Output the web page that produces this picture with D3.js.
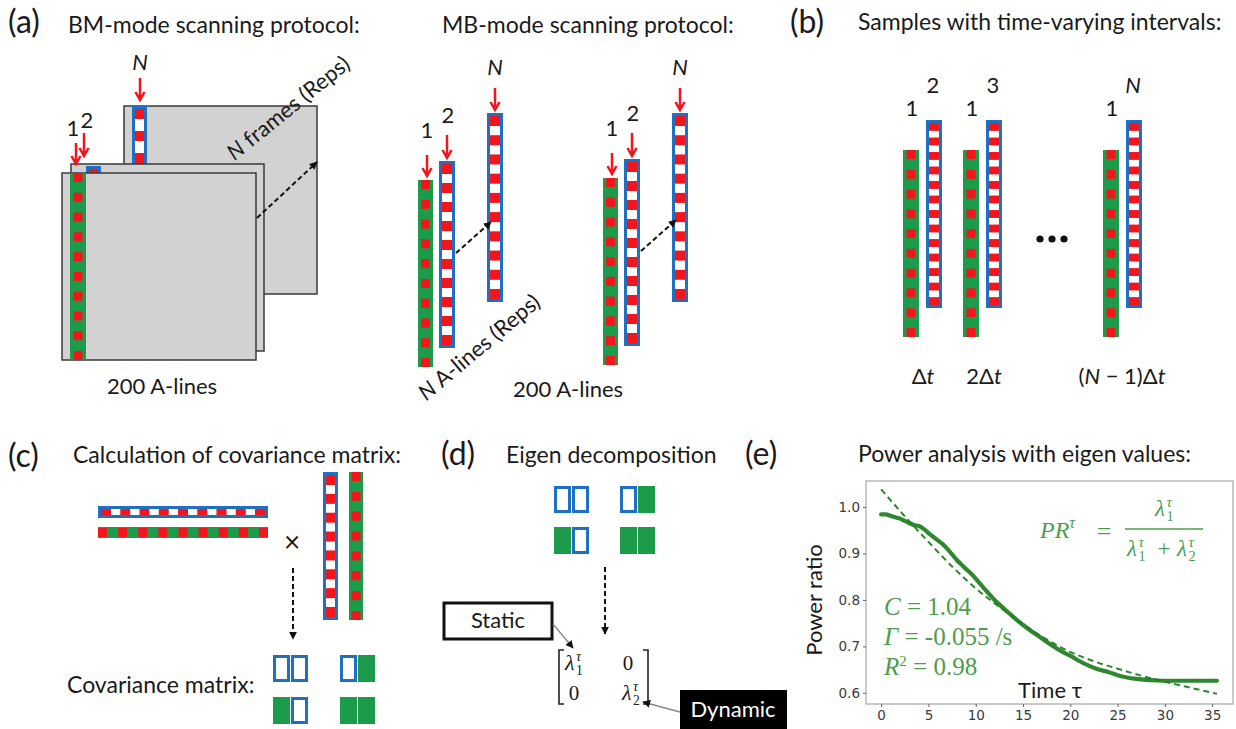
<!DOCTYPE html>
<html>
<head>
<meta charset="utf-8">
<script src="https://cdn.jsdelivr.net/npm/d3@7"></script>
<style>
  body { margin: 0; background: #fff; }
  svg { display: block; }
  text { font-family: Lato, "Open Sans", sans-serif; fill: #1a1a1a; }
  .math { font-family: "Liberation Serif", "DejaVu Serif", serif; }
</style>
</head>
<body>
<svg width="1236" height="729"></svg>
<script>
// ---- panel (e) data: power ratio vs time tau ----
const tauMeasured = [0, 0.5, 1, 1.5, 2, 2.5, 3, 3.5, 4, 4.5, 5, 5.5, 6, 6.5, 7, 7.5, 8, 8.5, 9, 9.5,
  10, 10.5, 11, 11.5, 12, 13, 14, 15, 16, 17, 18, 19, 20, 21, 22, 23, 24, 25, 26, 27, 28, 29, 30,
  31, 32, 33, 34, 35.5];
const prMeasured = [0.984, 0.984, 0.981, 0.978, 0.975, 0.970, 0.965, 0.961, 0.959, 0.953, 0.944,
  0.936, 0.928, 0.920, 0.910, 0.898, 0.886, 0.876, 0.866, 0.857, 0.846, 0.834, 0.822, 0.811, 0.800,
  0.781, 0.763, 0.746, 0.731, 0.717, 0.703, 0.690, 0.680, 0.668, 0.658, 0.650, 0.645, 0.638, 0.633,
  0.630, 0.628, 0.627, 0.626, 0.626, 0.626, 0.626, 0.626, 0.626];
const tauFit = [0, 2.5, 5, 7.5, 10, 12.5, 15, 17.5, 20, 22.5, 25, 27.5, 30, 32.5, 35.5];
const prFit = [1.038, 0.980, 0.925, 0.872, 0.825, 0.785, 0.748, 0.715, 0.688, 0.668, 0.652,
  0.637, 0.624, 0.612, 0.598];
const xTicks = [0, 5, 10, 15, 20, 25, 30, 35];
const yTicks = [0.6, 0.7, 0.8, 0.9, 1.0];
const fitLines = [
  { sym: "C", rest: " = 1.04" },
  { sym: "Γ", rest: " = -0.055 /s" },
  { sym: "R", sup: "2", rest: " = 0.98" }
];

// ---- diagram labels ----
const bPairs = [["1", "2"], ["1", "3"], ["1", "N"]];
const bDelays = ["Δt", "2Δt", "(N − 1)Δt"];
// covariance block pattern: b = hollow blue, g = filled green
const covPattern = [[["b", "b"], ["g", "b"]], [["b", "g"], ["g", "g"]]];

const GREEN = "#1c9c4a", RED = "#f2151b", BLUE = "#1f6fc2", GRAY = "#d3d2d3";
const TEXTGREEN = "#4c9d4c", LINEGREEN = "#1f7d1f";

const svg = d3.select("svg");
const defs = svg.append("defs");
defs.append("marker").attr("id", "headBlack")
  .attr("viewBox", "0 0 10 10").attr("refX", 9).attr("refY", 5)
  .attr("markerWidth", 8).attr("markerHeight", 8).attr("markerUnits", "userSpaceOnUse")
  .attr("orient", "auto")
  .append("path").attr("d", "M0,0L10,5L0,10z").attr("fill", "#111");

function label(g, x, y, txt, size, opts = {}) {
  return g.append("text").attr("x", x).attr("y", y)
    .attr("font-size", size)
    .attr("text-anchor", opts.anchor || "start")
    .attr("font-style", opts.italic ? "italic" : null)
    .attr("class", opts.cls || null)
    .style("fill", opts.color || null)
    .text(txt);
}

// vertical strip in local coords
function vstrip(g, x, y, w, h, kind, pitch = 19.5) {
  const s = g.append("g");
  if (kind === "green") {
    s.append("rect").attr("x", x).attr("y", y).attr("width", w).attr("height", h).attr("fill", GREEN);
    const sq = 9, n = Math.max(1, Math.round((h - sq) / pitch) + 1), gap = n > 1 ? (h - sq) / (n - 1) : 0;
    s.selectAll("rect.sq").data(d3.range(n)).join("rect").attr("class", "sq")
      .attr("x", x + (w - sq) / 2).attr("y", i => y + i * gap)
      .attr("width", sq).attr("height", sq).attr("fill", RED);
  } else {
    s.append("rect").attr("x", x + 1.5).attr("y", y + 1.5).attr("width", w - 3).attr("height", h - 3)
      .attr("fill", "#fff").attr("stroke", BLUE).attr("stroke-width", 3);
    const sq = Math.min(10, pitch * 0.55), inner = h - 6;
    const n = Math.max(1, Math.round((inner - sq) / pitch) + 1), gap = n > 1 ? (inner - sq) / (n - 1) : 0;
    s.selectAll("rect.sq").data(d3.range(n)).join("rect").attr("class", "sq")
      .attr("x", x + 3).attr("y", i => y + 3 + i * gap)
      .attr("width", w - 6).attr("height", sq).attr("fill", RED);
  }
  return s;
}

function hstrip(g, x, y, w, h, kind) {
  const s = g.append("g").attr("transform", `translate(${x},${y + h}) rotate(-90)`);
  vstrip(s, 0, 0, h, w, kind, 20);
}

function redArrow(g, x, y1, y2) {
  g.append("path")
    .attr("d", `M${x},${y1}V${y2}M${x - 4.5},${y2 - 8}L${x},${y2}L${x + 4.5},${y2 - 8}`)
    .attr("fill", "none").attr("stroke", RED).attr("stroke-width", 2.5);
}

function dashArrow(g, x1, y1, x2, y2) {
  g.append("line").attr("x1", x1).attr("y1", y1).attr("x2", x2).attr("y2", y2)
    .attr("stroke", "#111").attr("stroke-width", 2).attr("stroke-dasharray", "5,3")
    .attr("marker-end", "url(#headBlack)");
}

function grayArrow(g, x1, y1, x2, y2) {
  g.append("line").attr("x1", x1).attr("y1", y1).attr("x2", x2).attr("y2", y2)
    .attr("stroke", "#888").attr("stroke-width", 1.3)
    .attr("marker-end", "url(#headBlack)");
}

function lam(g, x, y, idx, size, color) {
  label(g, x, y, "λ", size, { italic: true, cls: "math", color });
  label(g, x + size * 0.5, y + size * 0.22, idx, size * 0.62, { cls: "math", color });
  label(g, x + size * 0.5, y - size * 0.4, "τ", size * 0.66, { italic: true, cls: "math", color });
}

function covBlocks(g, x0, y0, cw, ch, dx, dy) {
  covPattern.forEach((grp, gi) => {
    grp.forEach((row, ri) => {
      row.forEach((c, ci) => {
        const x = x0 + gi * dx + ci * (cw + 1), y = y0 + ri * dy;
        if (c === "g") {
          g.append("rect").attr("x", x).attr("y", y).attr("width", cw).attr("height", ch).attr("fill", GREEN);
        } else {
          g.append("rect").attr("x", x + 1.5).attr("y", y + 1.5).attr("width", cw - 3).attr("height", ch - 3)
            .attr("fill", "#fff").attr("stroke", BLUE).attr("stroke-width", 3);
        }
      });
    });
  });
}

const TITLE = 23, PANEL = 32, LBL = 22;

// ================= panel (a) BM-mode =================
const a = svg.append("g");
label(a, 8, 33, "(a)", PANEL);
label(a, 68, 33, "BM-mode scanning protocol:", TITLE);

const frameAttr = sel => sel.attr("fill", GRAY).attr("stroke", "#3a3a3a").attr("stroke-width", 1.5);
a.append("rect").attr("x", 124).attr("y", 106).attr("width", 193).attr("height", 188).call(frameAttr);
vstrip(a, 132, 106, 15, 60, "blue", 20);
a.append("rect").attr("x", 71).attr("y", 164).attr("width", 193).attr("height", 187).call(frameAttr);
vstrip(a, 86, 166, 15, 20, "blue");
a.append("rect").attr("x", 62).attr("y", 173).attr("width", 194).attr("height", 187).call(frameAttr);
vstrip(a, 70, 173, 16, 187, "green");

label(a, 140, 70, "N", LBL, { anchor: "middle", italic: true });
redArrow(a, 140, 78, 100);
label(a, 73, 136, "1", LBL, { anchor: "middle" });
label(a, 87, 128, "2", LBL, { anchor: "middle" });
redArrow(a, 76, 143, 164);
redArrow(a, 84, 133, 156);
dashArrow(a, 257, 218, 317, 162);
a.append("text").attr("transform", "translate(293,114) rotate(-39)")
  .attr("text-anchor", "middle").attr("font-size", LBL)
  .call(t => { t.append("tspan").attr("font-style", "italic").text("N"); t.append("tspan").text(" frames (Reps)"); });
label(a, 107, 394, "200 A-lines", LBL);

// ================= panel (a) MB-mode =================
label(a, 442, 33, "MB-mode scanning protocol:", TITLE);
[0, 185].forEach((off, gi) => {
  const dy = gi ? -2 : 0;
  vstrip(a, 418 + off, 180 + dy, 15, 187, "green");
  vstrip(a, 439 + off, 161 + dy, 16, 187, "blue");
  vstrip(a, 487 + off, 113, 16, 189, "blue");
  label(a, 427 + off, 138 + dy, "1", LBL, { anchor: "middle" });
  label(a, 448 + off, 123 + dy, "2", LBL, { anchor: "middle" });
  label(a, 495 + off, 75, "N", LBL, { anchor: "middle", italic: true });
  redArrow(a, 427 + off, 155 + dy, 176 + dy);
  redArrow(a, 447 + off, 135 + dy, 158 + dy);
  redArrow(a, 495 + off, 88, 110);
  dashArrow(a, 456 + off, 253 + dy, 491 + off, 222 + dy);
});
a.append("text").attr("transform", "translate(484,353) rotate(-40)")
  .attr("text-anchor", "middle").attr("font-size", LBL)
  .call(t => { t.append("tspan").attr("font-style", "italic").text("N"); t.append("tspan").text(" A-lines (Reps)"); });
label(a, 513, 397, "200 A-lines", LBL);

// ================= panel (b) =================
const b = svg.append("g");
label(b, 790, 33, "(b)", PANEL);
label(b, 858, 30, "Samples with time-varying intervals:", TITLE);
const pairX = [903, 963, 1103];
bPairs.forEach((p, i) => {
  const x = pairX[i];
  vstrip(b, x, 150, 16, 187, "green", 19);
  vstrip(b, x + 23, 120, 16, 188, "blue", 14.3);
  label(b, x + 9, 116, p[0], LBL, { anchor: "middle" });
  label(b, x + 30, 93, p[1], LBL, { anchor: "middle", italic: p[1] === "N" });
});
b.selectAll("circle.dot").data([0, 1, 2]).join("circle").attr("class", "dot")
  .attr("cx", i => 1040 + i * 12).attr("cy", 239).attr("r", 3.6).attr("fill", "#111");
const delayX = [923, 984, 1122];
bDelays.forEach((d, i) => {
  const t = b.append("text").attr("x", delayX[i]).attr("y", 384).attr("font-size", LBL).attr("text-anchor", "middle");
  // italicise t and N
  d.split(/(t|N)/).filter(s => s).forEach(s => {
    t.append("tspan").attr("font-style", (s === "t" || s === "N") ? "italic" : null).text(s);
  });
});

// ================= panel (c) =================
const c = svg.append("g");
label(c, 8, 467, "(c)", PANEL);
label(c, 73, 463, "Calculation of covariance matrix:", TITLE);
hstrip(c, 98, 506, 170, 12, "blue");
hstrip(c, 98, 527, 170, 11, "green");
label(c, 292, 552, "×", 28, { anchor: "middle" });
vstrip(c, 323, 472, 15, 148, "blue");
vstrip(c, 349, 472, 14, 148, "green");
dashArrow(c, 293, 568, 293, 639);
label(c, 67, 693, "Covariance matrix:", TITLE);
covBlocks(c, 273, 655, 17, 27, 67, 42);

// ================= panel (d) =================
const d = svg.append("g");
label(d, 441, 465, "(d)", PANEL);
label(d, 506, 463, "Eigen decomposition", TITLE);
covBlocks(d, 554, 486, 17, 27, 66, 41);
dashArrow(d, 605, 567, 605, 634);
d.append("rect").attr("x", 444).attr("y", 603).attr("width", 108).attr("height", 36)
  .attr("fill", "#fff").attr("stroke", "#111").attr("stroke-width", 3);
label(d, 498, 628, "Static", LBL, { anchor: "middle" });
grayArrow(d, 553, 624, 573, 648);
// matrix brackets
d.append("path").attr("d", "M564,650H559V704H564M643,650H648V704H643")
  .attr("fill", "none").attr("stroke", "#222").attr("stroke-width", 1.6);
lam(d, 565, 670, "1", 22, "#222");
label(d, 628, 670, "0", 21, { anchor: "middle", cls: "math" });
label(d, 574, 700, "0", 21, { anchor: "middle", cls: "math" });
lam(d, 622, 700, "2", 22, "#222");
d.append("rect").attr("x", 680).attr("y", 690).attr("width", 107).attr("height", 39).attr("fill", "#000");
label(d, 733, 717, "Dynamic", LBL, { anchor: "middle", color: "#fff" });
grayArrow(d, 680, 712, 643, 702);

// ================= panel (e) =================
const e = svg.append("g");
label(e, 745, 465, "(e)", PANEL);
label(e, 858, 462, "Power analysis with eigen values:", TITLE);

const x = d3.scaleLinear().domain([-1.6, 37.2]).range([866, 1233]);
const y = d3.scaleLinear().domain([0.576, 1.056]).range([704, 481]);

e.append("rect").attr("x", 866).attr("y", 481).attr("width", 367).attr("height", 223)
  .attr("fill", "#fff").attr("stroke", "#b8b8b8").attr("stroke-width", 1.5);

const yAxis = e.append("g").attr("transform", "translate(866,0)")
  .call(d3.axisLeft(y).tickValues(yTicks).tickFormat(d3.format(".1f")).tickSize(3).tickPadding(3));
const xAxis = e.append("g").attr("transform", "translate(0,704)")
  .call(d3.axisBottom(x).tickValues(xTicks).tickFormat(d3.format("d")).tickSize(3).tickPadding(3));
[xAxis, yAxis].forEach(ax => {
  ax.select(".domain").remove();
  ax.selectAll("line").attr("stroke", "#666");
  ax.selectAll("text").attr("font-size", 13.5).style("font-family", "'DejaVu Sans', sans-serif").style("fill", "#3a3a3a");
});

e.append("text").attr("transform", "translate(822,600) rotate(-90)")
  .attr("text-anchor", "middle").attr("font-size", LBL).text("Power ratio");

const line = d3.line().x(p => x(p[0])).y(p => y(p[1])).curve(d3.curveMonotoneX);
e.append("path").datum(d3.zip(tauFit, prFit)).attr("d", line)
  .attr("fill", "none").attr("stroke", "#2c8a2c").attr("stroke-width", 2).attr("stroke-dasharray", "6,4");
e.append("path").datum(d3.zip(tauMeasured, prMeasured)).attr("d", line)
  .attr("fill", "none").attr("stroke", LINEGREEN).attr("stroke-width", 4.2)
  .attr("stroke-linecap", "round").attr("opacity", 0.92);

label(e, 1050, 698, "Time τ", LBL, { anchor: "middle" });

// fit parameters
fitLines.forEach((f, i) => {
  const t = e.append("text").attr("x", 884).attr("y", 615 + i * 30).attr("font-size", 25)
    .attr("class", "math").style("fill", TEXTGREEN);
  t.append("tspan").attr("font-style", "italic").text(f.sym);
  if (f.sup) t.append("tspan").attr("dy", -9).attr("font-size", 15).text(f.sup);
  t.append("tspan").attr("dy", f.sup ? 9 : 0).text(f.rest);
});

// PR formula
const pr = e.append("text").attr("x", 1040).attr("y", 538).attr("font-size", 24)
  .attr("class", "math").style("fill", TEXTGREEN);
pr.append("tspan").attr("font-style", "italic").text("PR");
pr.append("tspan").attr("dy", -10).attr("font-size", 16).attr("font-style", "italic").text("τ");
label(e, 1104, 540, "=", 26, { anchor: "middle", cls: "math", color: TEXTGREEN });
lam(e, 1155, 516, "1", 23, TEXTGREEN);
e.append("line").attr("x1", 1125).attr("x2", 1203).attr("y1", 529).attr("y2", 529)
  .attr("stroke", TEXTGREEN).attr("stroke-width", 1.3);
lam(e, 1127, 556, "1", 23, TEXTGREEN);
label(e, 1164, 556, "+", 23, { anchor: "middle", cls: "math", color: TEXTGREEN });
lam(e, 1177, 556, "2", 23, TEXTGREEN);
</script>
</body>
</html>
